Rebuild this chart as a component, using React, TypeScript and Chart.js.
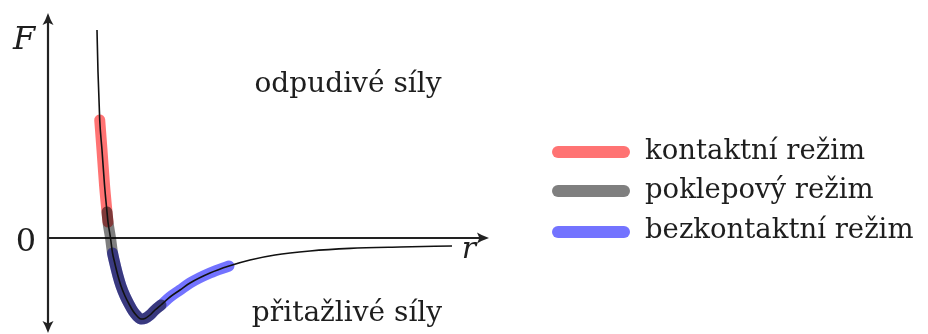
import React, { useEffect, useRef } from "react";
import { Chart, registerables } from "chart.js";

Chart.register(...registerables);

// Force curve F(r) (arbitrary units)
const rValues = [12.25, 12.5, 12.93, 13.5, 14.13, 14.75, 15, 15.63, 16.13, 16.63, 17.5, 18.25, 19.25, 20.25, 21.25, 22.25, 23.25, 24.25, 25.5, 26.75, 28.25, 30.5, 33, 35.5, 40.5, 45.25, 50.5, 56.75, 65.5, 75.5, 88, 101];
const fValues = [52, 41.5, 29.5, 22, 13.25, 6.5, 4, 0, -3.75, -6, -9.5, -12, -14.5, -16.5, -18.25, -19.5, -20.25, -20.1, -19.25, -18, -16.75, -14.75, -13, -11.25, -8.75, -7, -5.5, -4.25, -3.25, -2.6, -2.25, -2];

// Regimes: label, first and last curve point index, colour
const regimeLabels = ["kontaktní režim", "poklepový režim", "bezkontaktní režim"];
const regimeStart = [2, 5, 8];
const regimeEnd = [6, 20, 25];
const regimeColors = ["rgba(255,0,0,0.55)", "rgba(0,0,0,0.5)", "rgba(0,0,255,0.55)"];

const regionLabels = ["odpudivé síly", "přitažlivé síly"];
const axisLabels = ["F", "r", "0"];

const SERIF = "'DejaVu Serif', 'Liberation Serif', serif";

export default function App() {
  const ref = useRef<HTMLCanvasElement | null>(null);

  useEffect(() => {
    const canvas = ref.current;
    if (!canvas) return;
    const curve = rValues.map((r, i) => ({ x: r, y: fValues[i] }));
    const band = (k: number) => ({
      label: regimeLabels[k],
      data: curve.slice(regimeStart[k], regimeEnd[k] + 1),
      borderColor: regimeColors[k],
      borderWidth: 11,
      borderCapStyle: "round" as const,
      borderJoinStyle: "round" as const,
      pointRadius: 0,
      cubicInterpolationMode: "monotone" as const,
    });

    const deco = {
      id: "deco",
      beforeDatasetsDraw(chart: any) {
        const { ctx, scales } = chart;
        const xs = scales.x, ys = scales.y;
        const x0 = xs.getPixelForValue(0);
        const y0 = ys.getPixelForValue(0);
        const xEnd = xs.getPixelForValue(110.25);
        const yTop = ys.getPixelForValue(56.25);
        const yBot = ys.getPixelForValue(-23.75);
        ctx.save();
        ctx.strokeStyle = "#222";
        ctx.fillStyle = "#222";
        ctx.lineWidth = 2.2;
        ctx.beginPath();
        ctx.moveTo(x0, yBot - 8);
        ctx.lineTo(x0, yTop + 8);
        ctx.moveTo(x0, y0);
        ctx.lineTo(xEnd - 8, y0);
        ctx.stroke();
        const arrow = (tx: number, ty: number, dx: number, dy: number) => {
          const L = 12, W = 5.5;
          const px = -dy, py = dx;
          ctx.beginPath();
          ctx.moveTo(tx, ty);
          ctx.quadraticCurveTo(tx - dx * L * 0.6 + px * W * 0.45, ty - dy * L * 0.6 + py * W * 0.45, tx - dx * L + px * W, ty - dy * L + py * W);
          ctx.lineTo(tx - dx * L * 0.8, ty - dy * L * 0.8);
          ctx.lineTo(tx - dx * L - px * W, ty - dy * L - py * W);
          ctx.quadraticCurveTo(tx - dx * L * 0.6 - px * W * 0.45, ty - dy * L * 0.6 - py * W * 0.45, tx, ty);
          ctx.closePath();
          ctx.fill();
        };
        arrow(x0, yTop, 0, -1);
        arrow(x0, yBot, 0, 1);
        arrow(xEnd, y0, 1, 0);
        ctx.restore();
      },
      afterDraw(chart: any) {
        const { ctx } = chart;
        ctx.save();
        ctx.fillStyle = "#1e1e1e";
        ctx.textBaseline = "alphabetic";
        ctx.textAlign = "center";
        ctx.font = `italic 32px ${SERIF}`;
        ctx.fillText(axisLabels[0], 24, 49);
        ctx.font = `italic 30px ${SERIF}`;
        ctx.fillText(axisLabels[1], 469, 258);
        ctx.font = `32px ${SERIF}`;
        ctx.fillText(axisLabels[2], 26, 251);
        ctx.font = `28px ${SERIF}`;
        ctx.fillText(regionLabels[0], 348, 92);
        ctx.fillText(regionLabels[1], 347, 321);
        // legend
        const rows = [152, 191, 232];
        const bases = [159, 198, 238];
        regimeLabels.forEach((lab, k) => {
          ctx.strokeStyle = regimeColors[k];
          ctx.lineWidth = 12;
          ctx.lineCap = "round";
          ctx.beginPath();
          ctx.moveTo(558, rows[k]);
          ctx.lineTo(624, rows[k]);
          ctx.stroke();
          ctx.fillStyle = "#1e1e1e";
          ctx.textAlign = "left";
          ctx.font = `27.5px ${SERIF}`;
          ctx.fillText(lab, 645, bases[k]);
        });
        ctx.restore();
      },
    };

    const chart = new Chart(canvas, {
      type: "line",
      data: {
        datasets: [
          {
            label: "F(r)",
            data: curve,
            borderColor: "#111",
            borderWidth: 1.6,
            pointRadius: 0,
            cubicInterpolationMode: "monotone",
          },
          band(1),
          band(2),
          band(0),
        ],
      },
      options: {
        animation: false,
        responsive: true,
        maintainAspectRatio: false,
        devicePixelRatio: 1,
        layout: { padding: 0 },
        plugins: { legend: { display: false }, tooltip: { enabled: false } },
        events: [],
        scales: {
          x: { type: "linear", min: -12, max: 220, display: false },
          y: { type: "linear", min: -24, max: 59.5, display: false },
        },
      },
      plugins: [deco],
    });
    return () => chart.destroy();
  }, []);

  return (
    <div style={{ position: "fixed", left: 0, top: 0, width: 928, height: 334, background: "#fff" }}>
      <canvas ref={ref} />
    </div>
  );
}
